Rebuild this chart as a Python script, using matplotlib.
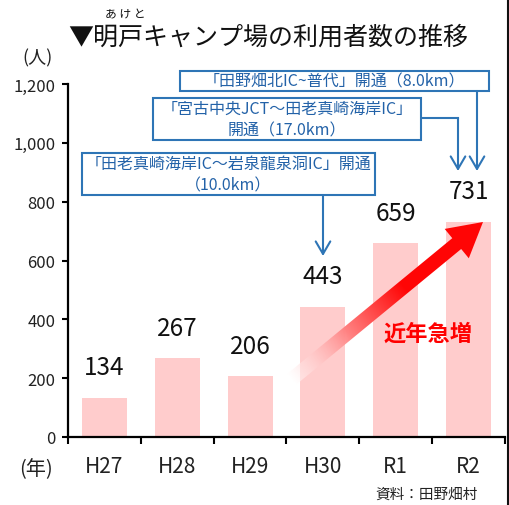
import numpy as np
import matplotlib
matplotlib.use('Agg')
import matplotlib.pyplot as plt
from matplotlib.patches import Rectangle, Polygon, FancyArrowPatch
from matplotlib.lines import Line2D

plt.rcParams['font.family'] = ['Noto Sans CJK JP', 'DejaVu Sans']

# data
years = ['H27', 'H28', 'H29', 'H30', 'R1', 'R2']
visitors = [134, 267, 206, 443, 659, 731]
yticks = [0, 200, 400, 600, 800, 1000, 1200]

W, H = 510, 506
fig = plt.figure(figsize=(W / 100, H / 100), dpi=100)


def px(x, y):
    # figure pixel (from top-left) -> figure fraction
    return x / W, 1 - y / H


ax_l, ax_r, ax_t, ax_b = 68, 505, 85, 438
ax = fig.add_axes([ax_l / W, 1 - ax_b / H, (ax_r - ax_l) / W, (ax_b - ax_t) / H])

x = np.arange(len(years))
ax.bar(x, visitors, width=0.62, color='#FFCCCC', zorder=1)
for xi, v in zip(x, visitors):
    ax.annotate(str(v), (xi, v), xytext=(0, 22), textcoords='offset points',
                ha='center', va='center', fontsize=17.5, color='#111111')

ax.set_xlim(-0.5, len(years) - 0.5)
ax.set_ylim(0, 1200)
ax.set_yticks(yticks)
ax.set_yticklabels([f'{v:,}' for v in yticks], fontsize=12, color='#222222')
ax.set_xticks(x)
ax.set_xticklabels(years, fontsize=15, color='#222222')
ax.set_xticks(np.arange(len(years) + 1) - 0.5, minor=True)
ax.tick_params(axis='x', which='major', length=0, pad=13)
ax.tick_params(axis='x', which='minor', length=5, width=1.5, direction='out')
ax.tick_params(axis='y', length=4, width=1.5, direction='out', pad=5)
for s in ['top', 'right']:
    ax.spines[s].set_visible(False)
for s in ['left', 'bottom']:
    ax.spines[s].set_linewidth(1.6)

# gradient arrow (pixel geometry relative to axes)
aw, ah = ax_r - ax_l, ax_b - ax_t
T = np.array([224.0, 58.0])
Hd = np.array([415.0, 215.0])
d = Hd - T
L = np.hypot(*d)
u = d / L
n = np.array([-u[1], u[0]])
neck = Hd - u * 34
pts = [T + n * 7, neck + n * 7, neck + n * 19, Hd, neck - n * 19, neck - n * 7, T - n * 7]
pts = np.array(pts) / np.array([aw, ah])
poly = Polygon(pts, closed=True, transform=ax.transAxes, facecolor='none', edgecolor='none')
ax.add_patch(poly)

gx, gy = np.meshgrid(np.linspace(0, aw, 300), np.linspace(0, ah, 300))
t = ((gx - T[0]) * u[0] + (gy - T[1]) * u[1]) / L
s = np.clip(t * 1.7, 0, 1)
img = np.zeros(gx.shape + (4,))
img[..., 0] = 1.0
img[..., 1] = 1 - s * 0.98
img[..., 2] = 1 - s * 0.98
img[..., 3] = np.clip(0.5 + s, 0, 1)
im = ax.imshow(img, origin='lower', extent=(0, 1, 0, 1), transform=ax.transAxes,
               aspect='auto', zorder=3, interpolation='bilinear')
im.set_clip_path(poly)
ax.set_xlim(-0.5, len(years) - 0.5)
ax.set_ylim(0, 1200)

fig.text(*px(428, 334), '近年急増', ha='center', va='center', fontsize=16,
         fontweight='bold', color='#FF0000')

# title
fig.text(*px(268, 38), '▼明戸キャンプ場の利用者数の推移', ha='center', va='center',
         fontsize=18, color='#111111')
fig.text(*px(125, 15), 'あ け と', ha='center', va='center', fontsize=8.5, color='#111111')
fig.text(*px(37, 58), '(人)', ha='center', va='center', fontsize=13, color='#222222')
fig.text(*px(36, 470), '(年)', ha='center', va='center', fontsize=14.5, color='#222222')
fig.text(*px(478, 495), '資料：田野畑村', ha='right', va='center', fontsize=10.5, color='#222222')

# right border line
fig.add_artist(Line2D([508 / W, 508 / W], [0, 1], color='#111111', lw=1.5))

# annotation boxes
blue = '#2E75B6'
tblue = '#2362A8'


def box(x0, y0, x1, y1, lines, fs=11.5):
    fig.add_artist(Rectangle(px(x0, y1), (x1 - x0) / W, (y1 - y0) / H,
                             transform=fig.transFigure, facecolor='white',
                             edgecolor=blue, lw=1.5, zorder=5))
    nl = len(lines)
    step = (y1 - y0) / nl
    for i, ln in enumerate(lines):
        fig.text(*px((x0 + x1) / 2, y0 + step * (i + 0.5)), ln, ha='center', va='center',
                 fontsize=fs, color=tblue, zorder=6)


def arrow(x0, y0, x1, y1):
    fig.add_artist(FancyArrowPatch(
        px(x0, y0), px(x1, y1), transform=fig.transFigure,
        arrowstyle='->,head_length=6,head_width=3.5', color=blue, lw=1.5,
        shrinkA=0, shrinkB=0, mutation_scale=1.5, zorder=5))


box(180, 72, 489, 92, ['「田野畑北IC~普代」開通（8.0km）'])
box(153, 99, 421, 141, ['「宮古中央JCT～田老真崎海岸IC」', '開通（17.0km）'])
box(82, 154, 375, 196, ['「田老真崎海岸IC～岩泉龍泉洞IC」開通', '（10.0km）'])

arrow(477, 92, 477, 172)
fig.add_artist(Line2D([421 / W, 458 / W], [1 - 119 / H, 1 - 119 / H], color=blue, lw=1.5))
arrow(458, 119, 458, 172)
arrow(323, 196, 323, 257)

fig.savefig('out.png', dpi=100)
